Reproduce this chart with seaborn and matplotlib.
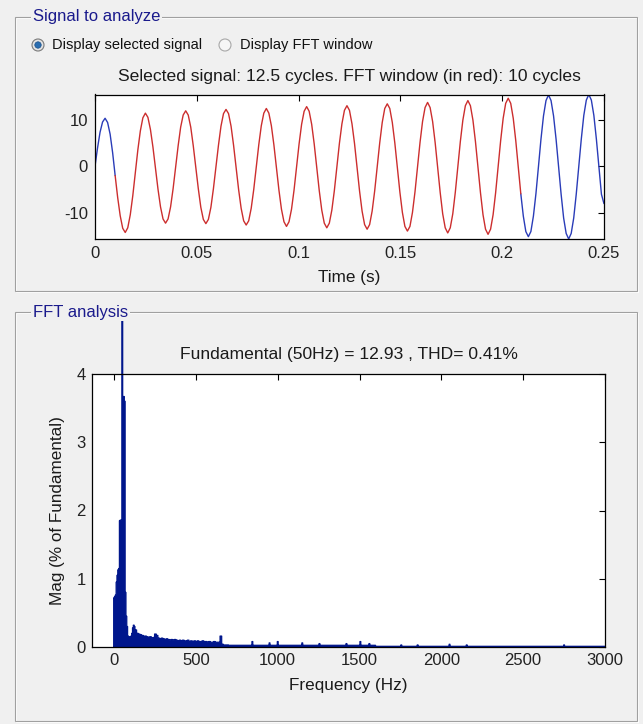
import numpy as np
import pandas as pd
import matplotlib
matplotlib.use("Agg")
import matplotlib.pyplot as plt
import seaborn as sns
from matplotlib.patches import Rectangle, Circle
from matplotlib.transforms import Bbox, TransformedBbox

FIG_W, FIG_H = 643, 724  # pixels

BG = '#f0f0f0'
PANEL_BLUE = '#1a1a8c'
SIG_BLUE = '#2a3cb8'
SIG_RED = '#cc2e2e'
FFT_BLUE = '#00168c'

# Signal to analyze, read every 1/16 of a cycle (~50.5 Hz), one row per cycle
SAMPLE_STEP_S = 0.0198 / 16
signal = [
    0.0, 3.9, 7.3, 9.5, 10.3, 9.4, 6.9, 2.9, -2.0, -6.7, -10.6, -13.3, -14.2, -13.2, -10.4, -6.3,
    -1.4, 3.5, 7.6, 10.4, 11.4, 10.5, 7.9, 4.1, -0.4, -4.9, -8.7, -11.3, -12.2, -11.3, -8.7, -4.8,
    -0.2, 4.4, 8.4, 11.0, 11.9, 11.0, 8.4, 4.4, -0.2, -4.8, -8.8, -11.4, -12.3, -11.4, -8.8, -4.8,
    -0.2, 4.5, 8.6, 11.3, 12.2, 11.3, 8.6, 4.5, -0.2, -5.0, -9.0, -11.7, -12.6, -11.7, -9.0, -5.0,
    -0.2, 4.6, 8.7, 11.4, 12.4, 11.4, 8.7, 4.6, -0.2, -5.1, -9.2, -11.9, -12.9, -11.9, -9.2, -5.1,
    -0.2, 4.8, 9.0, 11.8, 12.8, 11.8, 9.0, 4.8, -0.2, -5.2, -9.4, -12.2, -13.2, -12.2, -9.4, -5.2,
    -0.2, 4.9, 9.1, 12.0, 13.0, 12.0, 9.1, 4.9, -0.2, -5.3, -9.6, -12.5, -13.5, -12.5, -9.6, -5.3,
    -0.2, 5.0, 9.4, 12.4, 13.4, 12.4, 9.4, 5.0, -0.2, -5.5, -9.9, -12.9, -13.9, -12.9, -9.9, -5.5,
    -0.2, 5.1, 9.6, 12.6, 13.7, 12.6, 9.6, 5.1, -0.2, -5.6, -10.2, -13.2, -14.3, -13.2, -10.2, -5.6,
    -0.2, 5.3, 9.9, 13.0, 14.1, 13.0, 9.9, 5.3, -0.2, -5.7, -10.4, -13.5, -14.6, -13.5, -10.4, -5.7,
    -0.2, 5.5, 10.3, 13.5, 14.6, 13.5, 10.3, 5.5, -0.2, -5.9, -10.7, -14.0, -15.1, -14.0, -10.7, -5.9,
    -0.1, 5.8, 10.8, 14.1, 15.3, 14.1, 10.8, 5.8, -0.1, -6.0, -11.1, -14.4, -15.6, -14.4, -11.1, -6.0,
    -0.1, 5.8, 10.9, 14.2, 15.4, 14.2, 10.9, 5.8, -0.1, -6.0, -8.0,
]
# samples inside the FFT window (shown in red), 10 cycles
fft_window = (8, 169)

# FFT analysis, magnitude in % of fundamental
FFT_BIN_HZ = 5
# 0-195 Hz, one value per 5 Hz bin (fundamental at 50 Hz = 100 %)
low_mag = [0.72, 0.74, 0.76, 0.95, 1.05, 1.13, 1.15, 1.85, 1.86, 1.86,
           100.0, 3.67, 3.67, 3.60, 0.80, 0.45, 0.30, 0.16, 0.14, 0.15,
           0.15, 0.16, 0.20, 0.28, 0.32, 0.30, 0.22, 0.25, 0.20, 0.20,
           0.18, 0.19, 0.17, 0.18, 0.16, 0.17, 0.15, 0.16, 0.15, 0.16]
# 200-690 Hz, one value per 10 Hz
mid_mag = [0.15, 0.14, 0.15, 0.13, 0.14, 0.19, 0.17, 0.13, 0.12, 0.13,
           0.12, 0.11, 0.12, 0.11, 0.10, 0.11, 0.10, 0.11, 0.10, 0.09,
           0.10, 0.09, 0.10, 0.09, 0.09, 0.10, 0.08, 0.09, 0.08, 0.09,
           0.08, 0.09, 0.08, 0.08, 0.09, 0.08, 0.08, 0.07, 0.08, 0.07,
           0.07, 0.08, 0.07, 0.07, 0.07, 0.16, 0.04, 0.03, 0.03, 0.03]
# floor level above 700 Hz
floor_bands = [(700, 1600, 0.025), (1600, 3001, 0.01)]
spike_hz = [845, 950, 1000, 1150, 1255, 1420, 1505, 1560, 1755, 1855, 2050, 2155, 2750]
spike_mag = [0.08, 0.06, 0.08, 0.06, 0.05, 0.05, 0.08, 0.05, 0.03, 0.03, 0.04, 0.03, 0.03]

fig_title_top = 'Selected signal: 12.5 cycles. FFT window (in red): 10 cycles'
fig_title_fft = 'Fundamental (50Hz) = 12.93 , THD= 0.41%'

TICK_FS = 12
LABEL_FS = 12.3
TITLE_FS = 12.6
TEXT_COLOR = '#1a1a1a'


def px_rect(x0, y0, x1, y1):
    # pixel box (y from top) -> figure fraction [left, bottom, width, height]
    return [x0 / FIG_W, 1 - y1 / FIG_H, (x1 - x0) / FIG_W, (y1 - y0) / FIG_H]


def style_axes(ax, pad):
    ax.set_facecolor('white')
    for sp in ax.spines.values():
        sp.set_visible(True)
        sp.set_color('black')
        sp.set_linewidth(0.9)
    ax.tick_params(direction='in', top=True, right=True, length=4, width=0.8,
                   labelsize=TICK_FS, pad=pad, color='black', labelcolor='#222222')


sns.set_style('white')
plt.rcParams['font.family'] = ['Liberation Sans', 'DejaVu Sans']
plt.rcParams['axes.unicode_minus'] = False

fig = plt.figure(figsize=(FIG_W / 100, FIG_H / 100), dpi=100, facecolor=BG)

# background layer in pixel coordinates for the GUI panels
bg = fig.add_axes([0, 0, 1, 1], zorder=-1)
bg.set_xlim(0, FIG_W)
bg.set_ylim(FIG_H, 0)
bg.axis('off')

for (x0, y0, x1, y1), title in [((15, 17, 637, 291), 'Signal to analyze'),
                                ((15, 312, 637, 721), 'FFT analysis')]:
    bg.add_patch(Rectangle((x0 + 1, y0 + 1), x1 - x0, y1 - y0, fill=False, ec='white', lw=0.8))
    bg.add_patch(Rectangle((x0, y0), x1 - x0, y1 - y0, fill=False, ec='#a0a0a0', lw=0.8))
    bg.text(33, y0, title, ha='left', va='center', fontsize=12, color=PANEL_BLUE,
            bbox=dict(fc=BG, ec='none', pad=1.5))

# radio buttons
bg.add_patch(Circle((38, 45), 6, fc='#e4e4e4', ec='#7a7a7a', lw=0.8))
bg.add_patch(Circle((38, 45), 3.2, fc='#2a6db0', ec='#1a4f88', lw=0.5))
bg.add_patch(Circle((225, 45), 6, fc='#f6f6f6', ec='#a8a8a8', lw=0.8))
bg.text(51.5, 45.5, 'Display selected signal', ha='left', va='center', fontsize=10.5, color='#111111')
bg.text(240, 45.5, 'Display FFT window', ha='left', va='center', fontsize=10.5, color='#111111')

# ---- signal panel ----
time_s = np.arange(len(signal)) * SAMPLE_STEP_S
sig = np.array(signal)
i0, i1 = fft_window

ax1 = fig.add_axes(px_rect(95, 94.5, 604, 239))
# blue outside the FFT window, red inside
sns.lineplot(x=time_s[:i0 + 1], y=sig[:i0 + 1], color=SIG_BLUE, lw=1.0, errorbar=None, ax=ax1)
sns.lineplot(x=time_s[i1:], y=sig[i1:], color=SIG_BLUE, lw=1.0, errorbar=None, ax=ax1)
sns.lineplot(x=time_s[i0:i1 + 1], y=sig[i0:i1 + 1], color=SIG_RED, lw=1.0, errorbar=None, ax=ax1)
style_axes(ax1, 5)
ax1.set_xlim(0, 0.25)
ax1.set_ylim(sig.min(), sig.max())
ax1.set_xticks([0, 0.05, 0.1, 0.15, 0.2, 0.25])
ax1.set_xticklabels(['0', '0.05', '0.1', '0.15', '0.2', '0.25'])
ax1.set_yticks([-10, 0, 10])
ax1.set_title(fig_title_top, fontsize=TITLE_FS, color=TEXT_COLOR, pad=10)
ax1.set_xlabel('Time (s)', fontsize=LABEL_FS, color=TEXT_COLOR, labelpad=6.5)
ax1.set_ylabel('')

# ---- FFT panel ----
freq_hz = np.arange(0, 3001, FFT_BIN_HZ)
mag = np.zeros(len(freq_hz))
mag[:len(low_mag)] = low_mag
mag[40:140] = np.repeat(mid_mag, 2)
for lo, hi, level in floor_bands:
    mag[(freq_hz >= lo) & (freq_hz < hi)] = level
for f, m in zip(spike_hz, spike_mag):
    mag[f // FFT_BIN_HZ] = m
spectrum = pd.DataFrame({'freq': freq_hz, 'mag': mag})

ax2 = fig.add_axes(px_rect(92, 374, 605, 647))
sns.histplot(data=spectrum, x='freq', weights='mag', binwidth=FFT_BIN_HZ,
             binrange=(-FFT_BIN_HZ / 2, 3000 + FFT_BIN_HZ / 2), element='step', fill=True,
             color=FFT_BLUE, alpha=1, ax=ax2)
style_axes(ax2, 4.5)
ax2.set_xlim(-135, 3000)
ax2.set_ylim(0, 4)
ax2.set_xticks(np.arange(0, 3001, 500))
ax2.set_yticks([0, 1, 2, 3, 4])
ax2.set_title(fig_title_fft, fontsize=TITLE_FS, color=TEXT_COLOR, pad=11)
ax2.set_xlabel('Frequency (Hz)', fontsize=LABEL_FS, color=TEXT_COLOR, labelpad=7)
ax2.set_ylabel('Mag (% of Fundamental)', fontsize=LABEL_FS, color=TEXT_COLOR, labelpad=8)

# the fundamental bar runs past the axes up to the panel edge (no clipping as in the GUI)
clip = TransformedBbox(Bbox.from_extents(92 / FIG_W, 1 - 647 / FIG_H, 605 / FIG_W, 1 - 321 / FIG_H),
                       fig.transFigure)
for art in list(ax2.collections) + list(ax2.patches) + list(ax2.lines):
    art.set_edgecolor(FFT_BLUE)
    art.set_linewidth(0.9)
    art.set_clip_path(None)
    art.set_clip_box(clip)

fig.savefig('out.png', dpi=100, facecolor=BG)
